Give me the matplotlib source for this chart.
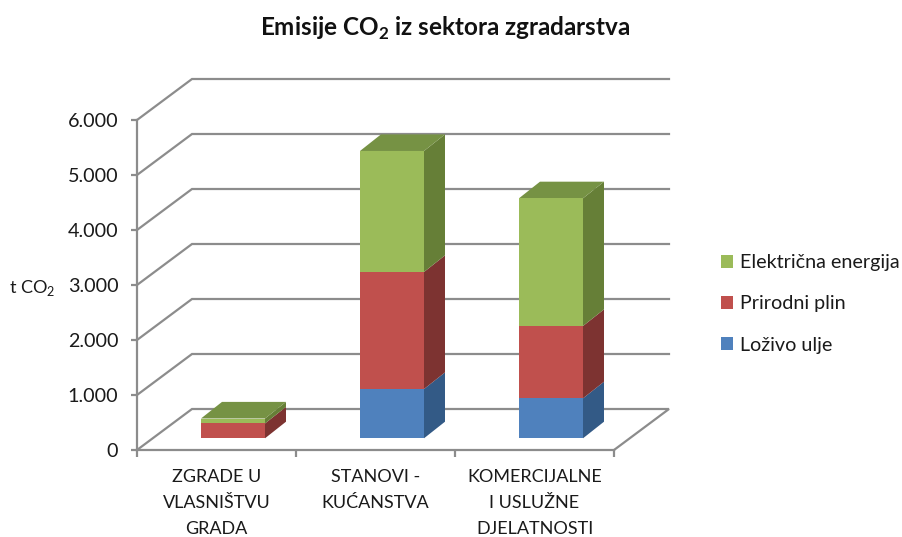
import numpy as np
import matplotlib
matplotlib.use('Agg')
import matplotlib.pyplot as plt
from matplotlib.patches import Polygon

categories = ['ZGRADE U\nVLASNIŠTVU\nGRADA', 'STANOVI -\nKUĆANSTVA', 'KOMERCIJALNE\nI USLUŽNE\nDJELATNOSTI']
lozivo_ulje = [0, 896, 727]
prirodni_plin = [270, 2128, 1315]
elektricna = [90, 2200, 2322]
series_names = ['Loživo ulje', 'Prirodni plin', 'Električna energija']
yticks = [0, 1000, 2000, 3000, 4000, 5000, 6000]
ytick_labels = ['0', '1.000', '2.000', '3.000', '4.000', '5.000', '6.000']

front_colors = ['#4f81bd', '#c0504d', '#9bbb59']
side_colors = ['#335a86', '#7d3331', '#667f37']
top_colors = ['#3f6797', '#9a403e', '#769244']
grid_color = '#8c8c8c'

plt.rcParams['font.family'] = 'Lato'
plt.rcParams['mathtext.fontset'] = 'custom'
plt.rcParams['mathtext.rm'] = 'Lato'
plt.rcParams['mathtext.bf'] = 'Lato:bold'

W, H = 903, 537
fig = plt.figure(figsize=(W / 100, H / 100), dpi=100)
# front plane of the fake 3D box, from pixel positions
ax = fig.add_axes([137 / W, 1 - 450 / H, 477 / W, 330 / H])
ax.set_xlim(0, 3)
ax.set_ylim(0, 6000)

# depth of the walls and of the bars in data units
wall_dx, wall_dy = 55 / 159, 41 / 55 * 1000
bar_off_x, bar_off_y = 16.5 / 159, 11.7 / 55 * 1000
bar_dx, bar_dy = 21 / 159, 16.6 / 55 * 1000
bar_w = 64 / 159

for v in yticks:
    xs = [0, wall_dx, 3 + wall_dx]
    ys = [v, v + wall_dy, v + wall_dy]
    if v == 0:
        xs = xs + [3]
        ys = ys + [0]
    ax.plot(xs, ys, color=grid_color, lw=1.6, clip_on=False, zorder=1, solid_joinstyle='miter')

centers = np.arange(3) + 0.5 + bar_off_x
bottom = np.full(3, bar_off_y)
for i, vals in enumerate([lozivo_ulje, prirodni_plin, elektricna]):
    vals = np.array(vals)
    bars = ax.bar(centers, vals, bar_w, bottom=bottom, color=front_colors[i],
                  label=series_names[i], zorder=5, clip_on=False)
    for j, b in enumerate(bars):
        if vals[j] == 0:
            continue
        x1 = b.get_x() + b.get_width()
        y0, y1 = b.get_y(), b.get_y() + b.get_height()
        ax.add_patch(Polygon([(x1, y0), (x1 + bar_dx, y0 + bar_dy), (x1 + bar_dx, y1 + bar_dy), (x1, y1)],
                             closed=True, color=side_colors[i], lw=0, zorder=4, clip_on=False))
    bottom = bottom + vals

# top faces only on the last series
x_left = centers - bar_w / 2
for j in range(3):
    ax.add_patch(Polygon([(x_left[j], bottom[j]), (x_left[j] + bar_dx, bottom[j] + bar_dy),
                          (x_left[j] + bar_w + bar_dx, bottom[j] + bar_dy), (x_left[j] + bar_w, bottom[j])],
                         closed=True, color=top_colors[2], lw=0, zorder=4, clip_on=False))

ax.spines['top'].set_visible(False)
ax.spines['right'].set_visible(False)
for s in ['left', 'bottom']:
    ax.spines[s].set_color(grid_color)
    ax.spines[s].set_linewidth(1.6)
    ax.spines[s].set_zorder(2)

ax.set_yticks(yticks)
ax.set_yticklabels(ytick_labels)
ax.tick_params(axis='y', length=4.5, width=1.6, color=grid_color, labelsize=14.2, labelcolor='#1a1a1a', pad=9)
ax.set_xticks([0, 1, 2, 3])
ax.set_xticklabels([])
ax.tick_params(axis='x', which='major', length=5, width=1.6, color=grid_color)
ax.set_xticks([0.5, 1.5, 2.5], minor=True)
ax.set_xticklabels(categories, minor=True, fontsize=13, color='#1a1a1a', linespacing=1.74)
ax.tick_params(axis='x', which='minor', length=0, pad=14)

ax.set_ylabel('t CO$_2$', rotation=0, fontsize=13, color='#1a1a1a', ha='left', va='center')
ax.yaxis.set_label_coords(-0.268, 0.49)

fig.text(445 / W, 1 - 28 / H, r'Emisije CO$_{\mathbf{2}}$ iz sektora zgradarstva', fontsize=17.5,
         fontweight='bold', ha='center', va='center', color='#111111')

handles, labels = ax.get_legend_handles_labels()
fig.legend(handles[::-1], labels[::-1], loc='center left', bbox_to_anchor=(721 / W, 1 - 304 / H),
           frameon=False, fontsize=14.2, handlelength=0.62, handleheight=0.62, handletextpad=0.35,
           labelspacing=1.23, borderpad=0, borderaxespad=0, labelcolor='#1a1a1a')

fig.savefig('out.png', dpi=100, facecolor='white')
